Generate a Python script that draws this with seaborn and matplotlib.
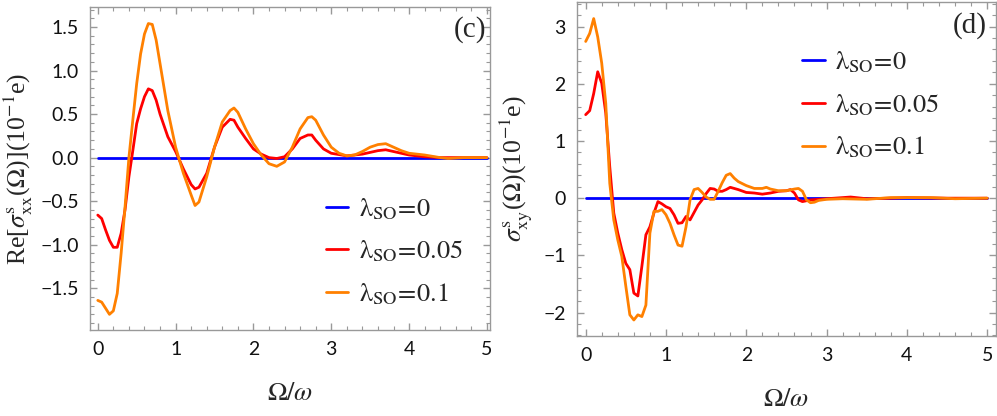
import numpy as np
import pandas as pd
import matplotlib
matplotlib.use("Agg")
import matplotlib.pyplot as plt
import seaborn as sns
from matplotlib.ticker import MultipleLocator

# ---------------- data ----------------
# panel (c): Re[sigma_xx^s]
xx_x_01 = [0, 0.05, 0.1, 0.15, 0.2, 0.25, 0.3, 0.35, 0.4, 0.45,
           0.5, 0.55, 0.6, 0.65, 0.7, 0.75, 0.8, 0.9, 1.0, 1.05,
           1.1, 1.2, 1.25, 1.3, 1.4, 1.5, 1.6, 1.7, 1.75, 1.8,
           1.9, 2.0, 2.1, 2.2, 2.3, 2.4, 2.5, 2.6, 2.7, 2.75,
           2.8, 2.9, 3.0, 3.1, 3.2, 3.3, 3.4, 3.5, 3.6, 3.7,
           3.8, 3.9, 4.0, 4.2, 4.4, 4.5, 4.7, 5.0]
xx_y_01 = [-1.64, -1.66, -1.73, -1.80, -1.76, -1.56, -1.10, -0.57, 0.0, 0.43,
           0.85, 1.19, 1.42, 1.54, 1.53, 1.35, 1.08, 0.54, 0.12, -0.03,
           -0.18, -0.43, -0.55, -0.51, -0.22, 0.12, 0.41, 0.54, 0.57, 0.52,
           0.33, 0.16, 0.03, -0.07, -0.10, -0.05, 0.12, 0.33, 0.46, 0.47,
           0.43, 0.26, 0.12, 0.05, 0.02, 0.03, 0.07, 0.12, 0.15, 0.16,
           0.12, 0.08, 0.05, 0.03, 0.0, -0.01, 0.0, 0.0]
xx_x_005 = [0, 0.05, 0.1, 0.15, 0.2, 0.25, 0.3, 0.35, 0.4, 0.45,
            0.5, 0.55, 0.6, 0.65, 0.7, 0.75, 0.8, 0.9, 1.0, 1.1,
            1.2, 1.25, 1.3, 1.4, 1.5, 1.6, 1.7, 1.75, 1.8, 1.9,
            2.0, 2.1, 2.2, 2.3, 2.4, 2.5, 2.6, 2.7, 2.75, 2.8,
            2.9, 3.0, 3.2, 3.4, 3.6, 3.7, 3.8, 4.0, 4.2, 4.4, 5.0]
xx_y_005 = [-0.66, -0.70, -0.83, -0.95, -1.03, -1.03, -0.87, -0.60, -0.22, 0.08,
            0.39, 0.56, 0.70, 0.79, 0.77, 0.66, 0.50, 0.24, 0.07, -0.13,
            -0.31, -0.36, -0.34, -0.18, 0.12, 0.35, 0.44, 0.43, 0.35, 0.22,
            0.10, 0.04, 0.0, -0.01, 0.01, 0.10, 0.22, 0.26, 0.26, 0.20,
            0.10, 0.05, 0.02, 0.04, 0.08, 0.09, 0.07, 0.03, 0.01, 0.0, 0.0]
zero_x = [0, 5]
zero_y = [0, 0]

# panel (d): sigma_xy^s
xy_x = [0, 0.05, 0.1, 0.15, 0.2, 0.25, 0.3, 0.35, 0.4, 0.45,
        0.5, 0.55, 0.6, 0.65, 0.7, 0.75, 0.8, 0.85, 0.9, 0.95,
        1.0, 1.05, 1.1, 1.15, 1.2, 1.25, 1.3, 1.35, 1.4, 1.45,
        1.5, 1.55, 1.6, 1.65, 1.7, 1.75, 1.8, 1.85, 1.9]
xy_y_01_a = [2.74, 2.88, 3.14, 2.82, 2.36, 1.66, 0.26, -0.38, -0.73, -1.02,
             -1.54, -2.04, -2.13, -2.04, -2.07, -1.87, -0.61, -0.23, -0.23, -0.20,
             -0.29, -0.44, -0.64, -0.82, -0.84, -0.50, -0.03, 0.15, 0.17, 0.10,
             0.02, -0.02, -0.02, 0.12, 0.27, 0.40, 0.43, 0.35, 0.29]
xy_x_01_b = [2.0, 2.1, 2.2, 2.25, 2.3, 2.4, 2.5, 2.6, 2.65, 2.7,
             2.75, 2.8, 2.85, 2.9, 3.0, 3.2, 3.5, 3.8, 4.0, 4.3, 4.6, 5.0]
xy_y_01_b = [0.22, 0.17, 0.17, 0.19, 0.16, 0.13, 0.13, 0.16, 0.17, 0.12,
             -0.03, -0.08, -0.07, -0.04, -0.02, -0.01, -0.02, 0.01, 0.01, 0.01, -0.01, 0.0]
xy_y_005_a = [1.46, 1.53, 1.83, 2.21, 2.01, 1.49, 0.55, -0.26, -0.61, -0.90,
              -1.14, -1.25, -1.66, -1.71, -1.19, -0.64, -0.50, -0.26, -0.06, -0.10,
              -0.15, -0.18, -0.29, -0.44, -0.43, -0.32, -0.38, -0.25, -0.12, -0.03,
              0.08, 0.17, 0.16, 0.12, 0.12, 0.15, 0.19, 0.17, 0.15]
xy_x_005_b = [2.0, 2.1, 2.2, 2.25, 2.3, 2.4, 2.5, 2.55, 2.6, 2.65,
              2.7, 2.8, 2.9, 3.0, 3.3, 3.5, 3.8, 4.0, 4.5, 5.0]
xy_y_005_b = [0.10, 0.09, 0.07, 0.08, 0.09, 0.12, 0.13, 0.15, 0.09, -0.03,
              -0.06, -0.03, -0.02, -0.01, 0.02, -0.01, 0.0, 0.01, 0.0, 0.0]

labels = [r'$\mathrm{\lambda}_{\mathrm{SO}}\!=\!\mathrm{0}$',
          r'$\mathrm{\lambda}_{\mathrm{SO}}\!=\!\mathrm{0.05}$',
          r'$\mathrm{\lambda}_{\mathrm{SO}}\!=\!\mathrm{0.1}$']
colors = ['#0000FF', '#FF0000', '#FF8000']

# ---------------- style ----------------
sns.set_style('ticks')
plt.rcParams['font.family'] = ['Lato', 'DejaVu Sans']
plt.rcParams['mathtext.fontset'] = 'stix'

fig = plt.figure(figsize=(9.97, 4.16), dpi=100)
axL = fig.add_axes([90 / 997, 1 - 330 / 416, 400 / 997, 323 / 416])
axR = fig.add_axes([577 / 997, 1 - 336 / 416, 419 / 997, 334 / 416])

frame_col = '#999999'
serif = ['Liberation Serif', 'DejaVu Serif']


def style(ax):
    for s in ax.spines.values():
        s.set_color(frame_col)
        s.set_linewidth(1.0)
    ax.tick_params(which='both', direction='in', top=True, right=True,
                   color=frame_col, labelsize=14, labelcolor='#111111')
    ax.tick_params(which='major', length=5, width=1.0, pad=8)
    ax.tick_params(which='minor', length=3, width=0.8)


def make_legend(ax, anchor):
    leg = ax.legend(loc='center left', bbox_to_anchor=anchor, frameon=False,
                    handlelength=0.85, handletextpad=0.4, labelspacing=0.65,
                    borderaxespad=0, borderpad=0, fontsize=19)
    return leg


lw = 2.0
# panel (c)
sns.lineplot(x=zero_x, y=zero_y, ax=axL, color=colors[0], lw=lw, label=labels[0])
sns.lineplot(x=xx_x_005, y=xx_y_005, ax=axL, color=colors[1], lw=lw, label=labels[1], sort=False)
sns.lineplot(x=xx_x_01, y=xx_y_01, ax=axL, color=colors[2], lw=lw, label=labels[2], sort=False)
axL.set_xlim(-0.1, 5.04)
axL.set_ylim(-1.98, 1.73)
axL.xaxis.set_major_locator(MultipleLocator(1))
axL.xaxis.set_minor_locator(MultipleLocator(0.2))
axL.yaxis.set_major_locator(MultipleLocator(0.5))
axL.yaxis.set_minor_locator(MultipleLocator(0.1))
axL.yaxis.set_major_formatter(matplotlib.ticker.FuncFormatter(
    lambda v, p: f'{v:.1f}'.replace('-', '\u2212')))
style(axL)
axL.set_xlabel(r'$\Omega/\omega$', fontsize=19, family=serif, labelpad=18)
axL.set_ylabel(r'Re[$\sigma^{\mathrm{s}}_{\mathrm{xx}}$($\Omega$)](10$^{-1}$e)',
               fontsize=18.5, family=serif, labelpad=4)
axL.text(0.95, 0.93, '(c)', transform=axL.transAxes, fontsize=21,
         family=serif, ha='center', va='center')
make_legend(axL, (0.59, 0.243))

# panel (d)
xy_x_01 = xy_x + xy_x_01_b
xy_y_01 = xy_y_01_a + xy_y_01_b
xy_x_005 = xy_x + xy_x_005_b
xy_y_005 = xy_y_005_a + xy_y_005_b
sns.lineplot(x=zero_x, y=zero_y, ax=axR, color=colors[0], lw=lw, label=labels[0])
sns.lineplot(x=xy_x_005, y=xy_y_005, ax=axR, color=colors[1], lw=lw, label=labels[1], sort=False)
sns.lineplot(x=xy_x_01, y=xy_y_01, ax=axR, color=colors[2], lw=lw, label=labels[2], sort=False)
axR.set_xlim(-0.108, 5.11)
axR.set_ylim(-2.41, 3.43)
axR.xaxis.set_major_locator(MultipleLocator(1))
axR.xaxis.set_minor_locator(MultipleLocator(0.2))
axR.yaxis.set_major_locator(MultipleLocator(1))
axR.yaxis.set_minor_locator(MultipleLocator(0.2))
style(axR)
axR.set_xlabel(r'$\Omega/\omega$', fontsize=19, family=serif, labelpad=18)
axR.set_ylabel(r'$\sigma^{\mathrm{s}}_{\mathrm{xy}}$($\Omega$)(10$^{-1}$e)',
               fontsize=18.5, family=serif, labelpad=6)
axR.text(0.938, 0.93, '(d)', transform=axR.transAxes, fontsize=21,
         family=serif, ha='center', va='center')
make_legend(axR, (0.538, 0.692))

fig.savefig('out.png', dpi=100)
